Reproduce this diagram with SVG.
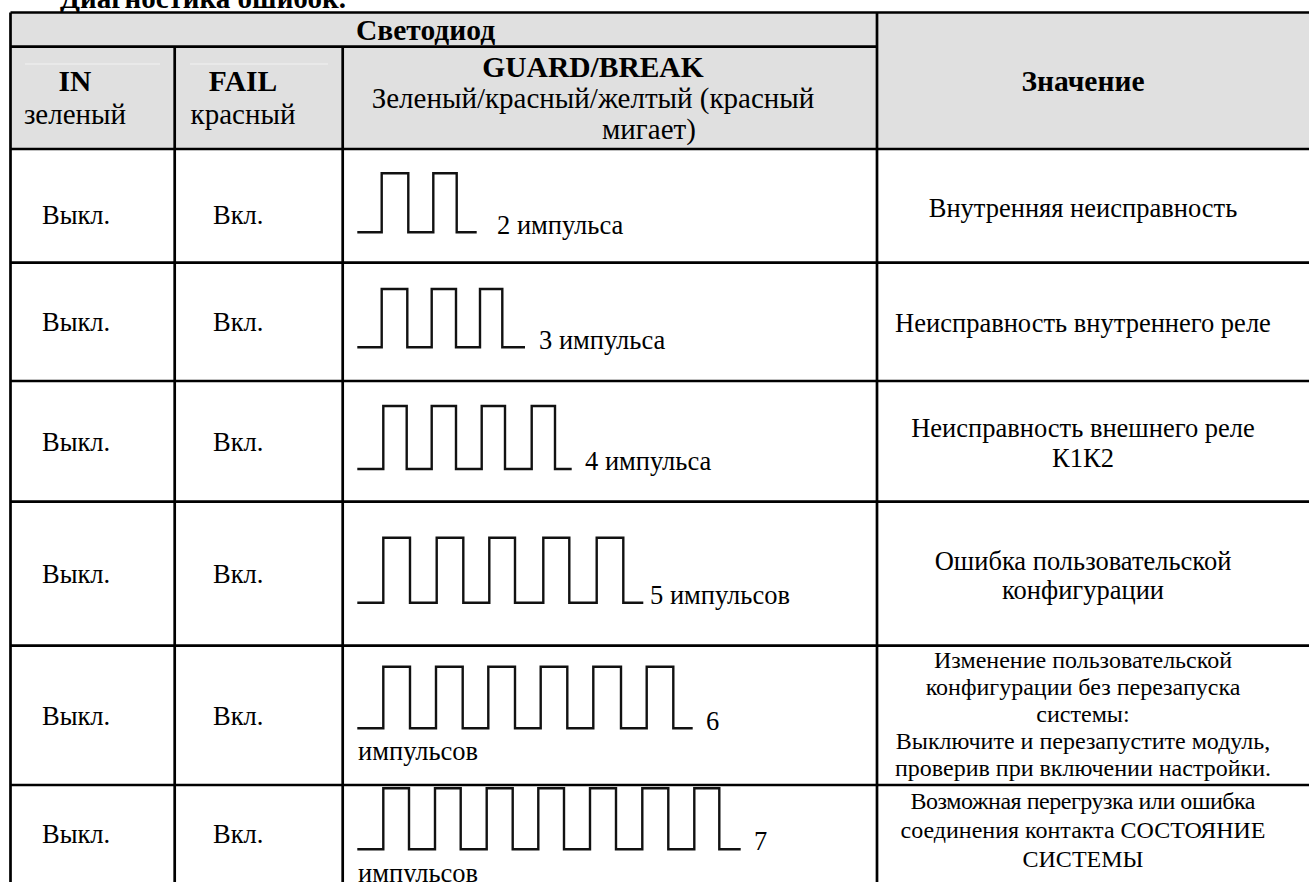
<svg xmlns="http://www.w3.org/2000/svg" width="1309" height="882" viewBox="0 0 1309 882">
<style>
text{font-family:"Liberation Serif","Times New Roman",serif;fill:#000;}
.b{font-weight:bold;font-size:29.5px;}
.h{font-size:29px;}
.t{font-size:26.5px;}
.s{font-size:24px;}
.m{text-anchor:middle;}
.grid{stroke:#000;stroke-width:2.7;fill:none;}
.faint{stroke:#f2f2f2;stroke-width:1;}
.wave{stroke:#111;stroke-width:2.4;fill:none;stroke-linejoin:miter;}
</style>
<rect width="1309" height="882" fill="#fff"/>
<g id="title"><text class="b" x="60" y="8" textLength="286" lengthAdjust="spacingAndGlyphs">Диагностика ошибок.</text></g>
<rect x="10.5" y="12.5" width="1300" height="136.5" fill="#e0e0e0"/>
<g id="header">
<line class="faint" x1="25" y1="64" x2="160" y2="64"/>
<line class="faint" x1="190" y1="64" x2="328" y2="64"/>
<text class="b" x="356" y="40">Светодиод</text>
<text class="b m" x="75" y="91">IN</text>
<text class="h m" x="75" y="124">зеленый</text>
<text class="b m" x="243" y="91">FAIL</text>
<text class="h m" x="243" y="124">красный</text>
<text class="b m" x="593" y="77">GUARD/BREAK</text>
<text class="h m" x="593" y="108">Зеленый/красный/желтый (красный</text>
<text class="h" x="602" y="139">мигает)</text>
<text class="b m" x="1083" y="91">Значение</text>
</g>
<g id="grid">
<path class="grid" d="M10.5 12.5H1309M10.5 46.7H877M10.5 149H1309M10.5 262.7H1309M10.5 381H1309M10.5 501.7H1309M10.5 645.7H1309M10.5 785H1309"/>
<path class="grid" d="M10.5 12.5V882M174.7 46.7V882M342.7 46.7V882M877 12.5V882"/>
</g>
<g id="row1">
<text class="t" x="42" y="224">Выкл.</text>
<text class="t" x="213" y="224">Вкл.</text>
<path class="wave" d="M357.3 232.3H381.7V173.3H408.3V232.3H433.3V173.3H456.7V232.3H476.7"/>
<text class="t" x="497" y="234">2 импульса</text>
<text class="t m" x="1083" y="217">Внутренняя неисправность</text>
</g>
<g id="row2">
<text class="t" x="42" y="331">Выкл.</text>
<text class="t" x="213" y="331">Вкл.</text>
<path class="wave" d="M357.3 347.3H381.7V289H407.3V347.3H431.7V289H456V347.3H480V289H502.3V347.3H525"/>
<text class="t" x="539" y="349">3 импульса</text>
<text class="t m" x="1083" y="332">Неисправность внутреннего реле</text>
</g>
<g id="row3">
<text class="t" x="42" y="451">Выкл.</text>
<text class="t" x="213" y="451">Вкл.</text>
<path class="wave" d="M357.3 469H383.3V406H406.7V469H431.7V406H456V469H481.7V406H505V469H531.7V406H555V469H571.7"/>
<text class="t" x="585" y="470">4 импульса</text>
<text class="t m" x="1083" y="437">Неисправность внешнего реле</text>
<text class="t m" x="1083" y="467">К1К2</text>
</g>
<g id="row4">
<text class="t" x="42" y="583">Выкл.</text>
<text class="t" x="213" y="583">Вкл.</text>
<path class="wave" d="M357.3 602.7H383.3V537.7H410V602.7H436.7V537.7H463.3V602.7H489.3V537.7H515V602.7H543.3V537.7H569.3V602.7H596.7V537.7H623.3V602.7H643.3"/>
<text class="t" x="650" y="604">5 импульсов</text>
<text class="t m" x="1083" y="570">Ошибка пользовательской</text>
<text class="t m" x="1083" y="599">конфигурации</text>
</g>
<g id="row5">
<text class="t" x="42" y="725">Выкл.</text>
<text class="t" x="213" y="725">Вкл.</text>
<path class="wave" d="M357.3 728.3H383.3V666.7H410V728.3H436V666.7H462.7V728.3H488.3V666.7H515V728.3H540.7V666.7H567.3V728.3H593.3V666.7H621V728.3H646.7V666.7H673.3V728.3H692.7"/>
<text class="t" x="706" y="730">6</text>
<text class="t" x="358" y="760">импульсов</text>
<text class="s m" x="1083" y="668">Изменение пользовательской</text>
<text class="s m" x="1083" y="695">конфигурации без перезапуска</text>
<text class="s m" x="1083" y="722">системы:</text>
<text class="s m" x="1083" y="749">Выключите и перезапустите модуль,</text>
<text class="s m" x="1083" y="776">проверив при включении настройки.</text>
</g>
<g id="row6">
<text class="t" x="42" y="843">Выкл.</text>
<text class="t" x="213" y="843">Вкл.</text>
<path class="wave" d="M357.3 849.3H383.3V788.3H409V849.3H435V788.3H460.7V849.3H486.7V788.3H512.7V849.3H538.3V788.3H564V849.3H590V788.3H616V849.3H642.3V788.3H668.3V849.3H694.3V788.3H719.3V849.3H740.7"/>
<text class="t" x="754" y="850">7</text>
<text class="t" x="358" y="882">импульсов</text>
<text class="s m" x="1083" y="809" textLength="345" lengthAdjust="spacing">Возможная перегрузка или ошибка</text>
<text class="s m" x="1083" y="838">соединения контакта СОСТОЯНИЕ</text>
<text class="s m" x="1083" y="867">СИСТЕМЫ</text>
</g>
</svg>
